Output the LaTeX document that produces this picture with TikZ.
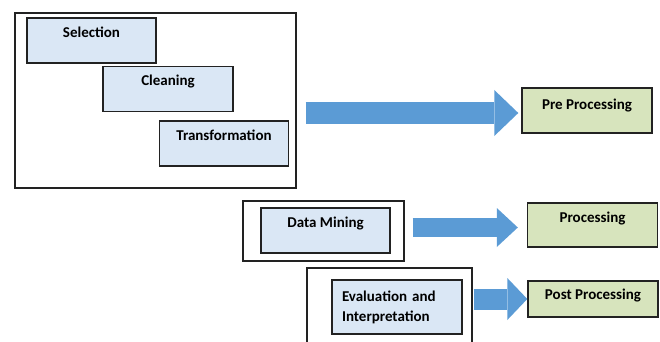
\documentclass[tikz,border=0pt]{standalone}
\usepackage{fontspec}
\setmainfont{Carlito}
\usetikzlibrary{positioning, calc, arrows.meta}
\definecolor{StepFill}  {HTML}{DAE7F5}
\definecolor{PhaseFill} {HTML}{D7E4BD}
\definecolor{ArrowBlue} {HTML}{5B9BD5}
\definecolor{EdgeGray}  {HTML}{222222}
\tikzset{
  every node/.style={font=\fontsize{15}{20}\selectfont\bfseries},
  % light blue step boxes, label sits near the top edge
  stepbox/.style={draw=EdgeGray, line width=1.4pt, fill=StepFill,
                  minimum width=129pt, inner xsep=0pt, inner ysep=0pt,
                  text height=19.5pt, text depth=25.5pt, align=center},
  phase/.style={stepbox, fill=PhaseFill, minimum width=130pt},
  evalbox/.style={draw=EdgeGray, line width=1.4pt, fill=StepFill,
                  text width=110pt, inner xsep=10pt, minimum height=54pt,
                  align=left},
  frame/.style={draw=EdgeGray, line width=1.4pt, inner sep=0pt},
  % fat block arrow: shaft width / head length / head width
  bigarrow/.style n args={3}{draw=ArrowBlue, line width=#1,
              -{Triangle[length=#2, width=#3, line width=0pt]}},
}

\begin{document}
\begin{tikzpicture}[x=1pt, y=-1pt]
\useasboundingbox (0,0) rectangle (660,342);
\clip (0,0) rectangle (660,342);

% pre processing group
\node[frame, minimum width=281pt, minimum height=175pt] (kdd) at (155.5,100.5) {};
\node[stepbox] (sel)   at (91.5,40.5) {Selection};
\node[stepbox, minimum width=130pt] (clean) at (168,89) {Cleaning};
\node[stepbox] (trans) at (224,143.5) {Transformation};

% data mining
\node[frame, minimum width=161pt, minimum height=60pt] (dmf) at (323.5,231) {};
\node[stepbox] (dm) at (325.5,230.5) {Data Mining};

% evaluation (frame runs off the bottom)
\node[frame, minimum width=165pt, minimum height=92pt] (evf) at (389.5,314) {};
\node[evalbox] (eval) at (397,307) {Evaluation and\\Interpretation};

% phases on the right
\node[phase, text height=21.5pt, text depth=23.5pt] (pre)  at (587,110.5) {Pre Processing};
\node[phase, text height=19.5pt, text depth=24.5pt] (proc) at (592.5,225) {Processing};
\node[phase, text height=18.5pt, text depth=17.5pt] (post) at (593,299) {Post Processing};

% block arrows
\draw[bigarrow={22pt}{24pt}{46pt}, shorten >=3pt]
  ([shift={(9,12.5)}]kdd.east) -- ([shift={(0,12.5)}]kdd.east -| pre.west);
\draw[bigarrow={19pt}{21pt}{39pt}, shorten >=9pt]
  ([shift={(8,-3.5)}]dmf.east) -- ([shift={(0,-3.5)}]dmf.east -| proc.west);
\draw[bigarrow={21pt}{20pt}{42pt}]
  ([xshift=1pt]evf.east |- post.west) -- (post.west);

\end{tikzpicture}
\end{document}
